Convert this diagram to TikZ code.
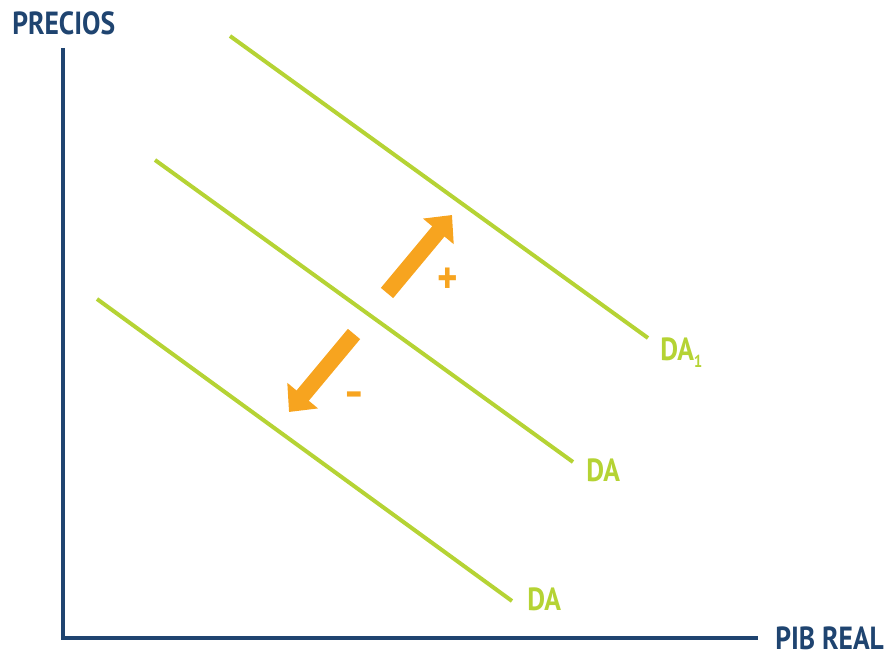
\documentclass[tikz,border=0pt]{standalone}
\usepackage{fontspec}
\setmainfont{PT Sans}[FakeStretch=0.86]
\usetikzlibrary{arrows.meta}
\definecolor{axisblue}{HTML}{1F4470}
\definecolor{dagreen}{HTML}{B5D334}
\definecolor{shiftorange}{HTML}{F7A41F}
\tikzset{
  axisline/.style={draw=axisblue, line width=3pt},
  axislabel/.style={text=axisblue, font=\bfseries\fontsize{24}{24}\selectfont, anchor=base west, inner sep=0pt},
  daline/.style={draw=dagreen, line width=3pt},
  dalabel/.style={text=dagreen, font=\bfseries\fontsize{24}{24}\selectfont, anchor=base west, inner sep=0pt},
  shiftarrow/.style={draw=shiftorange, line width=12pt, -{Triangle[width=29pt, length=16pt]}, shorten >=0pt},
  signlabel/.style={text=shiftorange, font=\bfseries\fontsize{34}{34}\selectfont, inner sep=0pt},
}
\begin{document}
\begin{tikzpicture}[x=0.75pt, y=-0.75pt]
\useasboundingbox (0,0) rectangle (887,656);
% axes
\coordinate (ytop) at (63,48);
\coordinate (origin) at (63,638);
\coordinate (xend) at (758,638);
\draw[axisline] (ytop) -- (origin) -- (xend);
\node[axislabel] (precios) at (12,35) {PRECIOS};
\node[axislabel] (pib) at (775,649) {PIB REAL};
% demand curves
\coordinate (a1) at (230,36);  \coordinate (a2) at (648,338);
\coordinate (b1) at (155,160); \coordinate (b2) at (573,462);
\coordinate (c1) at (97,299);  \coordinate (c2) at (512,601);
\draw[daline] (a1) -- (a2);
\draw[daline] (b1) -- (b2);
\draw[daline] (c1) -- (c2);
\node[dalabel] (da1) at (660,360) {DA\raisebox{-5.5pt}{\fontsize{13}{13}\selectfont 1}};
\node[dalabel] (da) at (586,481) {DA};
\node[dalabel] (da2) at (527,610) {DA};
% shift arrows
\coordinate (up1) at (387,293); \coordinate (up2) at (452,215);
\coordinate (dn1) at (354,334); \coordinate (dn2) at (289,412);
\draw[shiftarrow] (up1) -- (up2);
\draw[shiftarrow] (dn1) -- (dn2);
\node[signlabel] (plus) at (448,281) {+};
\node[signlabel, xscale=1.4] (minus) at (354,400) {-};
\end{tikzpicture}
\end{document}
